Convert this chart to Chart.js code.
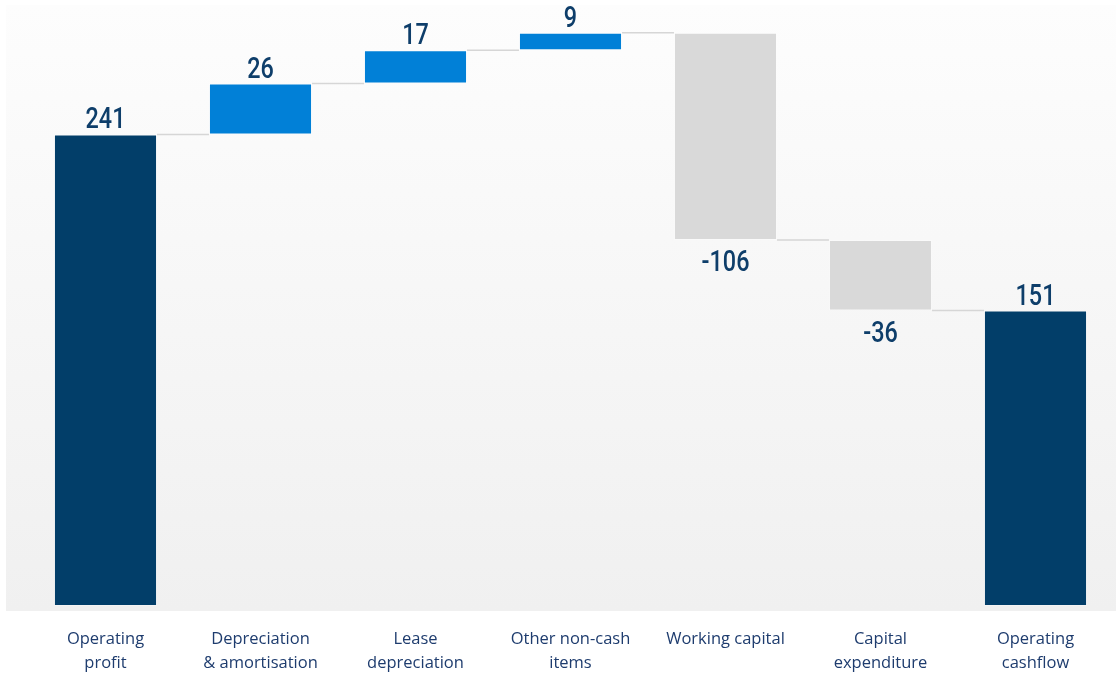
<!DOCTYPE html>
<html>
<head>
<meta charset="utf-8">
<script src="https://cdn.jsdelivr.net/npm/chart.js@4/dist/chart.umd.min.js"></script>
<style>
  html, body { margin: 0; padding: 0; background: #ffffff; }
  #wrap { width: 1118px; height: 674px; position: relative; }
</style>
</head>
<body>
<div id="wrap"><canvas id="c" width="1118" height="674"></canvas></div>
<script>
const categories = [["Operating", "profit"], ["Depreciation", "& amortisation"], ["Lease", "depreciation"], ["Other non-cash", "items"], "Working capital", ["Capital", "expenditure"], ["Operating", "cashflow"]];
const changes = [241, 26, 17, 9, -106, -36, 151];
const kinds = ["total", "increase", "increase", "increase", "decrease", "decrease", "total"];
const valueLabels = ["241", "26", "17", "9", "-106", "-36", "151"];

const kindColors = { total: "#023e69", increase: "#0180d7", decrease: "#d9d9d9" };

let running = 0;
const floating = changes.map((v, i) => {
  if (kinds[i] === "total") { running = v; return [0, v]; }
  const start = running; running += v; return [start, running];
});

const bgPlugin = {
  id: "bg",
  beforeDraw(chart) {
    const { ctx, chartArea } = chart;
    const x0 = chartArea.left - 22, x1 = chartArea.right + 3;
    const y0 = 5, y1 = chartArea.bottom + 5;
    const g = ctx.createLinearGradient(0, y0, 0, y1);
    g.addColorStop(0, "#fdfdfd");
    g.addColorStop(1, "#f0f0f0");
    ctx.save();
    ctx.fillStyle = g;
    ctx.fillRect(x0, y0, x1 - x0, y1 - y0);
    ctx.restore();
  }
};

const connectorPlugin = {
  id: "connectors",
  beforeDatasetsDraw(chart) {
    const { ctx } = chart;
    const meta = chart.getDatasetMeta(0);
    const ys = chart.scales.y;
    ctx.save();
    ctx.strokeStyle = "#d6d6d6";
    ctx.lineWidth = 1.5;
    for (let i = 0; i < meta.data.length - 1; i++) {
      const a = meta.data[i], b = meta.data[i + 1];
      const y = ys.getPixelForValue(floating[i][1]);
      ctx.beginPath();
      ctx.moveTo(a.x + a.width / 2, y);
      ctx.lineTo(b.x - b.width / 2, y);
      ctx.stroke();
    }
    ctx.restore();
  }
};

const labelPlugin = {
  id: "valueLabels",
  afterDatasetsDraw(chart) {
    const { ctx } = chart;
    const meta = chart.getDatasetMeta(0);
    const squeeze = 0.78;
    meta.data.forEach((el, i) => {
      const top = Math.min(el.y, el.base), bottom = Math.max(el.y, el.base);
      ctx.save();
      ctx.fillStyle = "#0e3e6a";
      ctx.font = "500 30px Roboto, 'DejaVu Sans', sans-serif";
      ctx.textAlign = "center";
      let y;
      if (changes[i] >= 0) { ctx.textBaseline = "alphabetic"; y = top - 6; }
      else { ctx.textBaseline = "alphabetic"; y = bottom + 31; }
      ctx.translate(el.x, y);
      ctx.scale(squeeze, 1);
      ctx.fillText(valueLabels[i], 0, 0);
      ctx.restore();
    });
  }
};

new Chart(document.getElementById("c"), {
  type: "bar",
  data: {
    labels: categories,
    datasets: [{
      data: floating,
      backgroundColor: kinds.map(k => kindColors[k]),
      borderColor: "rgba(255,255,255,0.3)",
      borderWidth: 1,
      borderSkipped: false,
      categoryPercentage: 1.0,
      barPercentage: 0.665
    }]
  },
  options: {
    responsive: false,
    animation: false,
    devicePixelRatio: 1,
    layout: { padding: { left: 28, right: 5, top: 19, bottom: 0 } },
    plugins: { legend: { display: false }, tooltip: { enabled: false } },
    scales: {
      y: { display: false, min: 0, max: 300 },
      x: {
        grid: { display: false, drawTicks: false },
        border: { display: false },
        ticks: {
          color: "#1e3c6e",
          padding: 21,
          maxRotation: 0,
          autoSkip: false,
          font: { family: "'Open Sans', sans-serif", size: 16.5, lineHeight: 1.45 }
        },
        afterFit(scale) { scale.height = 68; }
      }
    }
  },
  plugins: [bgPlugin, connectorPlugin, labelPlugin]
});
</script>
</body>
</html>
